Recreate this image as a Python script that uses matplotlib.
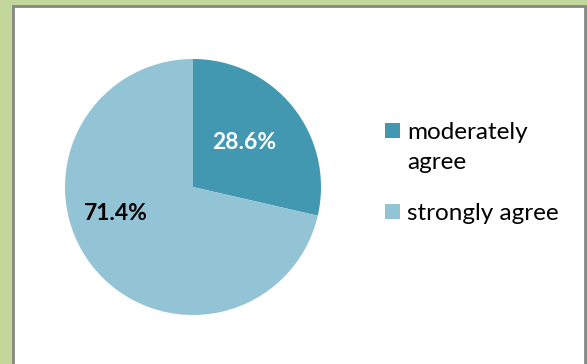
import matplotlib
matplotlib.use("Agg")
import matplotlib.pyplot as plt
from matplotlib.patches import Rectangle

labels = ["moderately\nagree", "strongly agree"]
shares = [28.6, 71.4]
colors = ["#4298b1", "#93c4d6"]
pct_colors = ["white", "black"]

W, H = 587, 364
fig = plt.figure(figsize=(W / 100, H / 100), dpi=100)
fig.patch.set_facecolor("#c3d69b")

# white chart panel with grey frame
fig.patches.append(Rectangle((13 / W, -0.05), (585 - 13) / W, (H - 6) / H + 0.05,
                             transform=fig.transFigure, facecolor="white",
                             edgecolor="#868686", linewidth=2, zorder=-10))

cx, cy, r = 193, H - 187, 128
ax = fig.add_axes([(cx - r) / W, (cy - r) / H, 2 * r / W, 2 * r / H])
wedges, _, autotexts = ax.pie(shares, colors=colors, startangle=90, counterclock=False,
                              autopct="%.1f%%", pctdistance=0.53,
                              wedgeprops=dict(linewidth=0),
                              textprops=dict(fontsize=16.5, fontweight="bold",
                                             family="Lato"))
for t, c in zip(autotexts, pct_colors):
    t.set_color(c)
autotexts[0].set_position((0.40, 0.35))
autotexts[1].set_position((-0.60, -0.21))
ax.set_xlim(-1, 1)
ax.set_ylim(-1, 1)
ax.set_aspect("equal")
ax.axis("off")

# legend drawn by hand so the swatch sits on the first line of a wrapped label
entry_top = [123, 204]   # px from top of figure
sw = 15
for lab, col, top in zip(labels, colors, entry_top):
    fig.patches.append(Rectangle((385 / W, 1 - (top + sw) / H), sw / W, sw / H,
                                 transform=fig.transFigure, facecolor=col,
                                 edgecolor="none"))
    fig.text(407 / W, 1 - (top - 1) / H, lab, family="Lato", fontsize=17.5,
             va="top", ha="left", linespacing=1.55)

fig.savefig("out.png", dpi=100, facecolor=fig.get_facecolor())
